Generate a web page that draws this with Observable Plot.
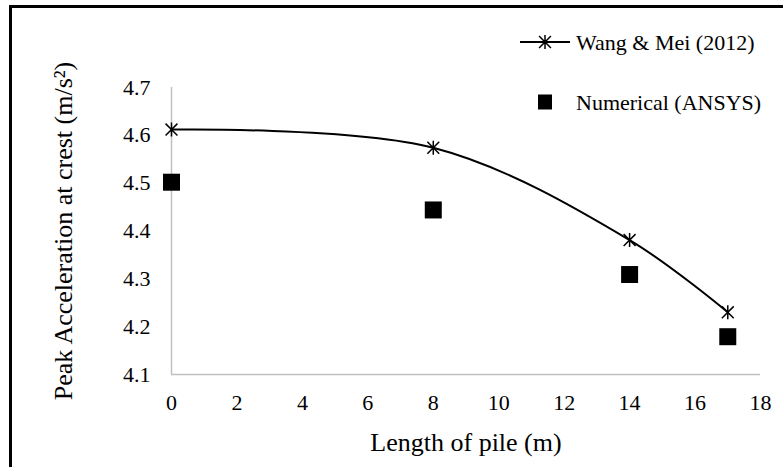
<!DOCTYPE html>
<html><head><meta charset="utf-8">
<script src="https://cdn.jsdelivr.net/npm/d3@7"></script>
<script src="https://cdn.jsdelivr.net/npm/@observablehq/plot@0.6"></script>
<style>
body{margin:0;background:#fff;}
#chart svg, #chart svg text{font-family:"Liberation Serif","Times New Roman",serif !important;}
#chart svg [aria-label="x-axis label"] text,
#chart svg [aria-label="y-axis label"] text{font-size:26px;}
</style></head><body><div id="chart"></div>
<script>
const lengths = [0, 8, 14, 17];
const wangMei = [4.612, 4.574, 4.381, 4.230];
const ansys = [4.502, 4.444, 4.309, 4.179];
const seriesNames = ["Wang & Mei (2012)", "Numerical (ANSYS)"];
const xTicks = [0, 2, 4, 6, 8, 10, 12, 14, 16, 18];
const yTicks = [4.1, 4.2, 4.3, 4.4, 4.5, 4.6, 4.7];
const xLabel = "Length of pile (m)";
const yLabel = "Peak Acceleration at crest (m/s²)";

const wang = lengths.map((x, i) => ({x, y: wangMei[i]}));
const num = lengths.map((x, i) => ({x, y: ansys[i]}));

const star = {draw(ctx, size) {
  const r = Math.sqrt(size / Math.PI), d = r * 0.85;
  ctx.moveTo(0, -r); ctx.lineTo(0, r);
  ctx.moveTo(-d, -d); ctx.lineTo(d, d);
  ctx.moveTo(-d, d); ctx.lineTo(d, -d);
}};
const square = {draw(ctx, size) {
  const s = Math.sqrt(size / Math.PI);
  ctx.rect(-s, -s, 2 * s, 2 * s);
}};

const chart = Plot.plot({
  width: 783, height: 467,
  marginLeft: 171, marginRight: 23, marginTop: 87, marginBottom: 93,
  style: {fontFamily: "Liberation Serif, Times New Roman, serif", fontSize: "22px", color: "#000", background: "#fff", overflow: "visible"},
  x: {domain: [0, 18]},
  y: {domain: [4.1, 4.7]},
  marks: [
    Plot.ruleX([0], {stroke: "#c0c0c0", strokeWidth: 1.5}),
    Plot.ruleY([4.1], {stroke: "#c0c0c0", strokeWidth: 1.5}),
    Plot.axisX({ticks: xTicks, tickSize: 0, tickPadding: 20, fontSize: 22, label: xLabel, labelAnchor: "center", labelOffset: 76, labelArrow: "none"}),
    Plot.axisY({ticks: yTicks, tickSize: 0, tickPadding: 21, fontSize: 22, tickFormat: d3.format(".1f"), label: yLabel, labelAnchor: "center", labelOffset: 118, labelArrow: "none"}),
    Plot.line(wang, {x: "x", y: "y", curve: "catmull-rom", stroke: "black", strokeWidth: 2}),
    Plot.dot(wang, {x: "x", y: "y", symbol: star, r: 7, stroke: "black", strokeWidth: 1.5, fill: "none"}),
    Plot.dot(num, {x: "x", y: "y", symbol: square, r: 8.5, fill: "black", stroke: "none"})
  ]
});
document.getElementById("chart").appendChild(chart);

const svg = d3.select(chart);
svg.append("rect").attr("x", 10.5).attr("y", 6.5).attr("width", 800).attr("height", 500)
  .attr("fill", "none").attr("stroke", "black").attr("stroke-width", 3);

const lg = svg.append("g").attr("font-size", 22).attr("text-anchor", "start");
const l1 = lg.append("g").attr("transform", "translate(545,42)");
l1.append("line").attr("x1", -25).attr("x2", 25).attr("stroke", "black").attr("stroke-width", 2);
l1.append("path").attr("d", d3.symbol(star, Math.PI * 49)()).attr("stroke", "black").attr("stroke-width", 1.5).attr("fill", "none");
l1.append("text").attr("x", 31).attr("dy", "0.35em").attr("text-anchor", "start").text(seriesNames[0]);
const l2 = lg.append("g").attr("transform", "translate(545,102)");
l2.append("rect").attr("x", -7).attr("y", -7.5).attr("width", 14).attr("height", 15).attr("fill", "black");
l2.append("text").attr("x", 31).attr("dy", "0.35em").attr("text-anchor", "start").text(seriesNames[1]);
</script></body></html>
